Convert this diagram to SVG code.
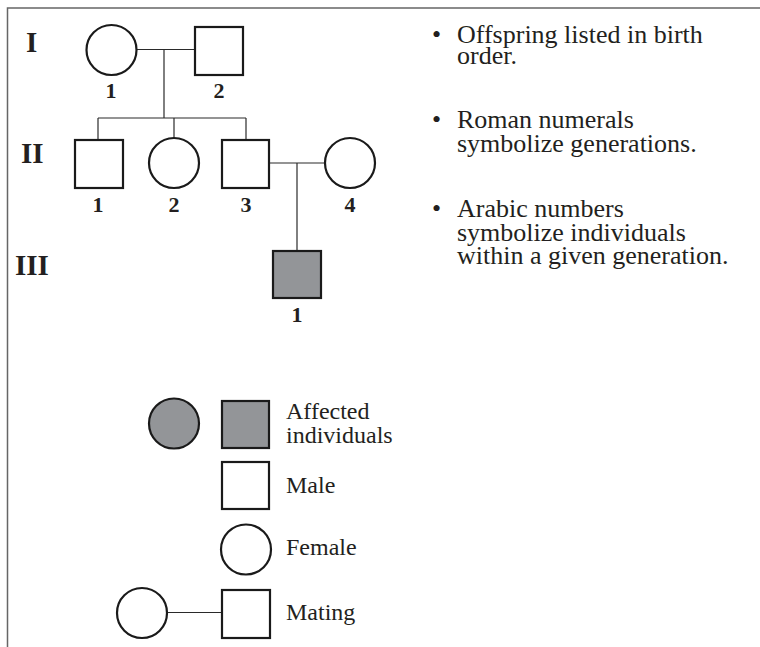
<svg xmlns="http://www.w3.org/2000/svg" width="760" height="647" viewBox="0 0 760 647">
<style>
.sym{fill:#fff;stroke:#1a1a1a;stroke-width:2.2}
.aff{fill:#939598;stroke:#1a1a1a;stroke-width:2.2}
.ln{stroke:#2a2a2a;stroke-width:1.2;fill:none}
.gen{font-family:"Liberation Serif","Times New Roman",serif;font-weight:bold;font-size:29px;fill:#231f20}
.num{font-family:"Liberation Serif","Times New Roman",serif;font-weight:bold;font-size:22px;fill:#231f20;text-anchor:middle}
.txt{font-family:"Liberation Serif","Times New Roman",serif;font-size:26px;fill:#231f20}
.leg{font-family:"Liberation Serif","Times New Roman",serif;font-size:24px;fill:#231f20}
</style>
<rect width="760" height="647" fill="#fff"/>
<path d="M7.5 647 V8 H760" fill="none" stroke="#666" stroke-width="1.5"/>
<g id="generation-labels">
<text class="gen" x="26" y="52">I</text>
<text class="gen" x="21" y="163">II</text>
<text class="gen" x="15" y="275">III</text>
</g>
<g id="connectors">
<line class="ln" x1="137" y1="49.5" x2="195" y2="49.5"/>
<line class="ln" x1="164" y1="49.5" x2="164" y2="118"/>
<line class="ln" x1="98" y1="118" x2="246" y2="118"/>
<line class="ln" x1="98" y1="118" x2="98" y2="140"/>
<line class="ln" x1="174" y1="118" x2="174" y2="138"/>
<line class="ln" x1="246" y1="118" x2="246" y2="140"/>
<line class="ln" x1="269" y1="163" x2="325" y2="163"/>
<line class="ln" x1="297" y1="163" x2="297" y2="251" stroke="#555"/>
<line class="ln" x1="167" y1="612.5" x2="222" y2="612.5"/>
</g>
<g id="I-1"><circle class="sym" cx="111.5" cy="50" r="25"/><text class="num" x="111" y="98">1</text></g>
<g id="I-2"><rect class="sym" x="195" y="27" width="48" height="48"/><text class="num" x="219" y="98">2</text></g>
<g id="II-1"><rect class="sym" x="75" y="140" width="48" height="48"/><text class="num" x="98" y="212">1</text></g>
<g id="II-2"><circle class="sym" cx="174" cy="163" r="25"/><text class="num" x="174" y="212">2</text></g>
<g id="II-3"><rect class="sym" x="222" y="140" width="47" height="48"/><text class="num" x="246" y="212">3</text></g>
<g id="II-4"><circle class="sym" cx="350" cy="163" r="25"/><text class="num" x="350" y="212">4</text></g>
<g id="III-1"><rect class="aff" x="273" y="251" width="48" height="47"/><text class="num" x="297" y="322">1</text></g>
<g id="notes">
<text class="txt" x="432" y="42.5">•</text>
<text class="txt"><tspan x="457" y="42.5">Offspring listed in birth</tspan><tspan x="457" y="64">order.</tspan></text>
<text class="txt" x="432" y="128">•</text>
<text class="txt"><tspan x="457" y="128">Roman numerals</tspan><tspan x="457" y="151.5">symbolize generations.</tspan></text>
<text class="txt" x="432" y="217">•</text>
<text class="txt"><tspan x="457" y="217">Arabic numbers</tspan><tspan x="457" y="240.5">symbolize individuals</tspan><tspan x="457" y="264">within a given generation.</tspan></text>
</g>
<g id="legend-affected">
<circle class="aff" cx="174" cy="423.5" r="25"/>
<rect class="aff" x="222" y="401" width="47" height="47"/>
<text class="leg"><tspan x="286" y="419">Affected</tspan><tspan x="286" y="443">individuals</tspan></text>
</g>
<g id="legend-male">
<rect class="sym" x="222" y="462" width="47" height="47"/>
<text class="leg" x="286" y="493">Male</text>
</g>
<g id="legend-female">
<circle class="sym" cx="246" cy="549.5" r="25"/>
<text class="leg" x="286" y="555">Female</text>
</g>
<g id="legend-mating">
<circle class="sym" cx="142" cy="613" r="25"/>
<rect class="sym" x="222" y="590" width="48" height="48"/>
<text class="leg" x="286" y="620">Mating</text>
</g>
</svg>
